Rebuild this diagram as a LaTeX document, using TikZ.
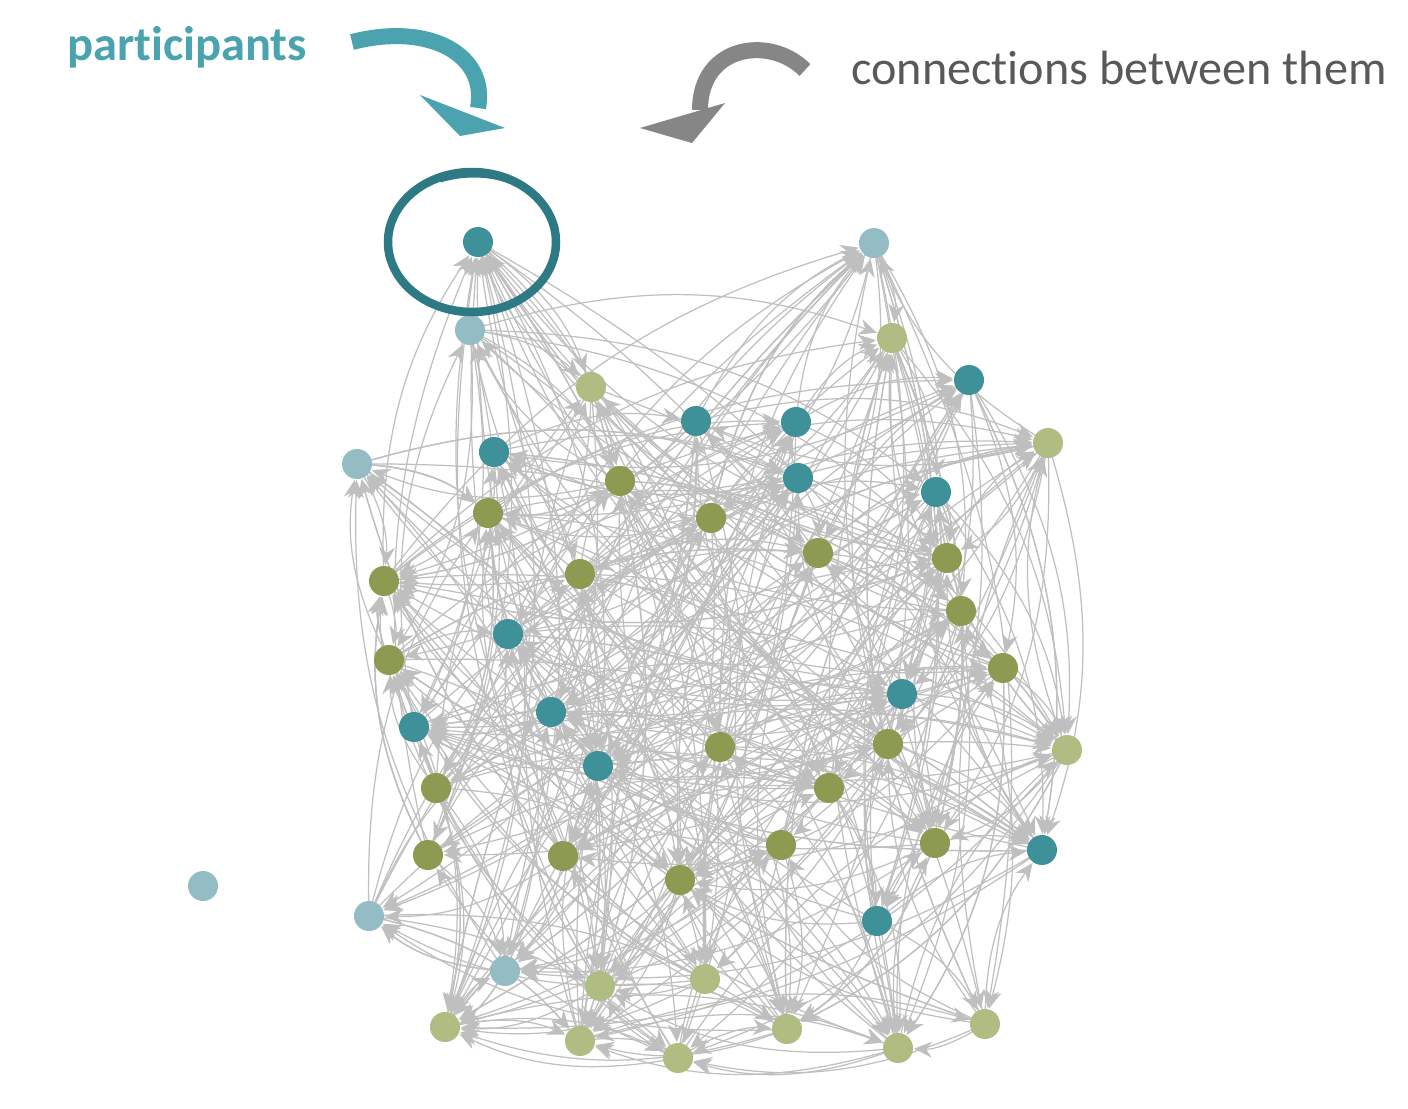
\documentclass[tikz,border=0pt]{standalone}
\usepackage{fontspec}
\setmainfont[Ligatures=NoCommon]{Carlito}
\usetikzlibrary{arrows.meta}
\definecolor{teal1}{HTML}{3F9199}
\definecolor{lblue}{HTML}{94BCC4}
\definecolor{olive1}{HTML}{8C9A52}
\definecolor{lolive}{HTML}{B0BD82}
\definecolor{ring}{HTML}{2D7A84}
\definecolor{ptext}{HTML}{4AA3AE}
\definecolor{ctext}{HTML}{595959}
\tikzset{
 dot/.style={circle,minimum size=0.3cm,inner sep=0pt},
 T/.style={dot,fill=teal1}, B/.style={dot,fill=lblue},
 O/.style={dot,fill=olive1}, L/.style={dot,fill=lolive},
 edge/.style={draw=gray!50,line width=0.35pt,shorten >=1.6mm,-{Stealth[length=1.8mm,width=1.6mm]}},
 bigbody/.style={line width=0.16cm}
}
\begin{document}
\begin{tikzpicture}[x=0.01cm,y=-0.01cm]
\useasboundingbox (0,0) rectangle (1408,1108);
\foreach \n/\x/\y in {1/478/242,2/874/243,3/470/330,4/892/338,5/591/387,6/969/380,7/696/421,8/796/422,9/1048/443,10/357/464,11/494/452,12/798/478,13/620/481,14/936/492,15/488/513,16/711/518,17/818/553,18/947/558,19/384/581,20/580/574,21/961/611,22/508/634,23/389/660,24/1003/668,25/902/694,26/551/712,27/414/727,28/720/747,29/888/744,30/1067/750,31/598/766,32/436/788,33/829/788,34/428/855,35/563/856,36/781/845,37/935/843,38/1042/850,39/680/880,40/203/886,41/369/916,42/877/921,43/505/971,44/600/986,45/705/979,46/445/1027,47/580/1041,48/678/1058,49/787/1029,50/898/1048,51/985/1024}
  \coordinate (c\n) at (\x,\y);
\pgfmathsetseed{7}
\foreach \i in {1,...,51}{
  \foreach \k in {1,...,11}{
    \pgfmathtruncatemacro{\j}{random(1,51)}
    \ifnum\j=\i\else\ifnum\j=40\else\ifnum\i=40\else
      \draw[edge] (c\i) to[bend left=18] (c\j);
    \fi\fi\fi
  }
}
\foreach \n/\s in {1/T,2/B,3/B,4/L,5/L,6/T,7/T,8/T,9/L,10/B,11/T,12/T,13/O,14/T,15/O,16/O,17/O,18/O,19/O,20/O,21/O,22/T,23/O,24/O,25/T,26/T,27/T,28/O,29/O,30/L,31/T,32/O,33/O,34/O,35/O,36/O,37/O,38/T,39/O,40/B,41/B,42/T,43/B,44/L,45/L,46/L,47/L,48/L,49/L,50/L,51/L}
  \node[\s] (n\n) at (c\n) {};
\draw[ring,line width=0.085cm] (472,242) ellipse [x radius=84, y radius=70];
\draw[ring,line width=0.05cm] (440,180) .. controls (490,165) and (545,185) .. (552,225);
\node[text=ptext,font=\fontsize{13.8}{16}\selectfont\bfseries] (lp) at (187,47) {participants};
\node[text=ctext,font=\fontsize{13.7}{16}\selectfont] (lc) at (1119,68) {connections between them};
% teal arrow
\coordinate (pa) at (352,42);
\draw[bigbody,ptext] (pa) .. controls (430,22) and (488,55) .. (478,108);
\fill[ptext] (420,95) -- (505,128) -- (460,136) -- cycle;
% gray arrow
\coordinate (ga) at (805,70);
\draw[bigbody,gray!95] (ga) .. controls (770,35) and (700,45) .. (700,110);
\fill[gray!95] (640,128) -- (725,103) -- (692,143) -- cycle;
\end{tikzpicture}
\end{document}
